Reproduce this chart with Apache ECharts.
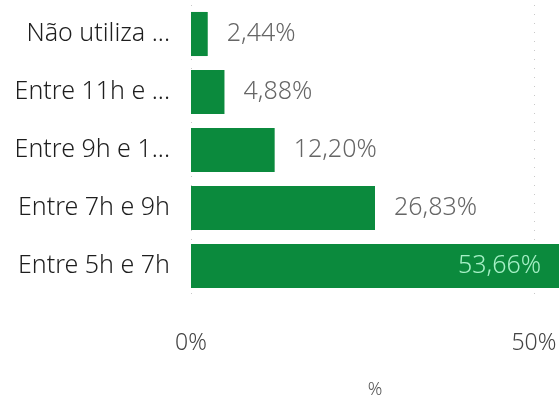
<!DOCTYPE html>
<html><head><meta charset="utf-8">
<script src="https://cdn.jsdelivr.net/npm/echarts@6/dist/echarts.min.js"></script>
<style>html,body{margin:0;padding:0;background:#fff}#c{width:559px;height:400px}</style>
</head><body><div id="c"></div>
<script>
const categories = ["Entre 5h e 7h", "Entre 7h e 9h", "Entre 9h e 1...", "Entre 11h e ...", "Não utiliza ..."];
const values = [53.66, 26.83, 12.20, 4.88, 2.44];
const xTicks = [0, 50];
const axisName = "%";

const fmt = v => v.toFixed(2).replace('.', ',') + '%';
const FONT = '"Noto Sans", sans-serif';
const chart = echarts.init(document.getElementById('c'), null, {renderer: 'canvas'});
chart.setOption({
  animation: false,
  grid: {left: 191, right: 0, top: 5, bottom: 105, containLabel: false, outerBoundsMode: 'none'},
  xAxis: {
    type: 'value', min: 0, max: 53.66, interval: 50,
    name: axisName, nameLocation: 'middle', nameGap: 86,
    nameTextStyle: {color: '#555', fontSize: 18, fontFamily: FONT, fontWeight: 300},
    axisLine: {show: false}, axisTick: {show: false},
    axisLabel: {color: '#444', fontSize: 23, fontFamily: FONT, fontWeight: 300, margin: 37, showMaxLabel: false,
      formatter: v => xTicks.includes(v) ? v + '%' : ''},
    splitLine: {show: true, showMaxLine: false, lineStyle: {type: [1, 8], color: '#c8c8c8', width: 1}}
  },
  yAxis: {
    type: 'category', data: categories,
    axisLine: {show: false}, axisTick: {show: false},
    axisLabel: {color: '#1e1e1e', fontSize: 25, fontFamily: FONT, fontWeight: 300, margin: 21}
  },
  series: [{
    type: 'bar', barWidth: '76%',
    itemStyle: {color: '#0b8a3d'},
    data: values.map(v => v > 40
      ? {value: v, label: {position: 'insideRight', color: '#a6f0c6', distance: 18}}
      : {value: v}),
    label: {show: true, position: 'right', distance: 19, color: '#666', fontSize: 25, fontFamily: FONT, fontWeight: 300,
      formatter: p => fmt(p.value)}
  }]
});
</script></body></html>
